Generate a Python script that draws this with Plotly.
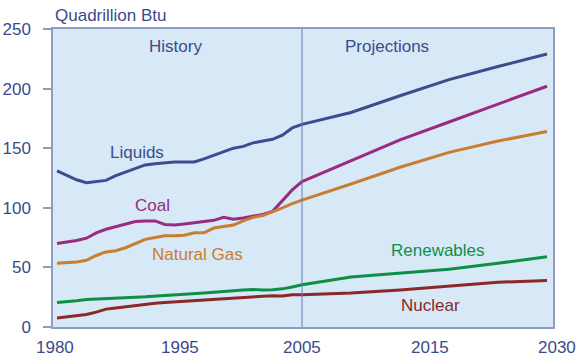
import plotly.graph_objects as go

years = list(range(1980, 2006)) + [2010, 2015, 2020, 2025, 2030]

liquids = [131, 127, 123.5, 121, 122, 123, 127, 130, 133.5, 136, 137, 138, 138.5, 138.5, 138.5,
           141, 144, 147, 150, 151.5, 154.5, 156, 157.5, 161, 167, 170,
           180, 194, 207.5, 218.5, 229]
coal = [70, 71, 72.5, 74.5, 79, 82, 84, 86, 88.5, 89, 89, 86, 85.5, 86.5, 87.5,
        88.5, 89.5, 92, 90.5, 91.5, 93, 94.5, 97, 106, 115, 122,
        139.5, 157, 172, 187, 202]
natural_gas = [53.5, 54, 54.5, 56, 60, 63, 64, 66.5, 70, 73.5, 75, 76.5, 76.5, 77, 79,
               79, 83, 84.5, 85.5, 89, 92, 93.5, 96.5, 100, 103.5, 106.5,
               120, 134, 146.5, 156, 164]
renewables = [20.5, 21, 22, 23, 23.5, 24, 24.3, 24.6, 25, 25.3, 25.8, 26.2, 26.6, 27, 27.5,
              28.5, 29.2, 30, 30.5, 31, 31.5, 31, 31.2, 32, 33.5, 35.5,
              42, 45, 48.5, 53.5, 59]
nuclear = [7.5, 8.5, 9.5, 10.5, 12.5, 15, 16, 17, 18.5, 19.5, 20, 20.5, 21, 21.5, 22,
           22.5, 23.5, 24, 24.5, 25, 25.5, 26, 26.3, 26, 27, 27,
           28.5, 31, 34.5, 37.5, 39]

series_names = ["Liquids", "Coal", "Natural Gas", "Renewables", "Nuclear"]
series_values = [liquids, coal, natural_gas, renewables, nuclear]
series_colors = ["#3B4D8E", "#9A2B80", "#C97D2E", "#0E8F48", "#8B2828"]

x_tick_labels = ["1980", "1995", "2005", "2015", "2030"]
x_tick_paper = [0.004, 0.254, 0.498, 0.754, 1.008]
y_tick_vals = [0, 50, 100, 150, 200, 250]

label_pos = {
    "Liquids": (1988.2, 146.4),
    "Coal": (1989.7, 102.3),
    "Natural Gas": (1994.3, 61.2),
    "Renewables": (2018.9, 64),
    "Nuclear": (2018.1, 17.9),
}

navy = "#3C4A8C"
font_family = "Liberation Sans, Arial, sans-serif"

fig = go.Figure()
for name, vals, col in zip(series_names, series_values, series_colors):
    fig.add_trace(go.Scatter(x=years, y=vals, mode="lines", name=name,
                             line=dict(color=col, width=3), showlegend=False))

fig.add_shape(type="line", xref="x", yref="paper", x0=2005, x1=2005, y0=0, y1=1,
              line=dict(color="#6A7BB2", width=1))

annotations = []
for name, col in zip(series_names, series_colors):
    x, y = label_pos[name]
    annotations.append(dict(x=x, y=y, xref="x", yref="y", text=name, showarrow=False,
                            xanchor="center",
                            font=dict(color=col, size=17, family=font_family)))
annotations.append(dict(x=1992.1, y=235.7, xref="x", yref="y", text="History", showarrow=False,
                        xanchor="center",
                        font=dict(color=navy, size=17, family=font_family)))
annotations.append(dict(x=2013.7, y=235.7, xref="x", yref="y", text="Projections", showarrow=False,
                        xanchor="center",
                        font=dict(color=navy, size=17, family=font_family)))
annotations.append(dict(x=0, y=1.044, xref="paper", yref="paper", xanchor="left", yanchor="middle",
                        text="Quadrillion Btu", showarrow=False,
                        font=dict(color=navy, size=17, family=font_family)))
for lbl, xp in zip(x_tick_labels, x_tick_paper):
    annotations.append(dict(x=xp, y=-0.068, xref="paper", yref="paper",
                            xanchor="center", yanchor="middle",
                            text=lbl, showarrow=False,
                            font=dict(color=navy, size=17, family=font_family)))

fig.update_layout(
    width=580, height=359,
    margin=dict(l=53, r=27, t=29, b=32, autoexpand=False),
    paper_bgcolor="white",
    plot_bgcolor="#D7E8F7",
    annotations=annotations,
    font=dict(family=font_family, color=navy, size=17),
)
fig.update_xaxes(range=[1979.59, 2030.61], showgrid=False, zeroline=False,
                 showticklabels=False, ticks="", automargin=False,
                 showline=True, linecolor="#8E9CC2", linewidth=1.5, mirror=True)
fig.update_yaxes(range=[0, 250], tickvals=y_tick_vals, showgrid=False, zeroline=False,
                 ticks="outside", ticklen=8, tickcolor="#8E9CC2", tickwidth=1.5,
                 ticklabelstandoff=9, automargin=False,
                 tickfont=dict(color=navy, size=17, family=font_family),
                 showline=True, linecolor="#8E9CC2", linewidth=1.5, mirror=True)

fig.write_html("out.html", config={"displayModeBar": False},
               post_script="document.body.style.margin='0';document.body.style.overflow='hidden';")
